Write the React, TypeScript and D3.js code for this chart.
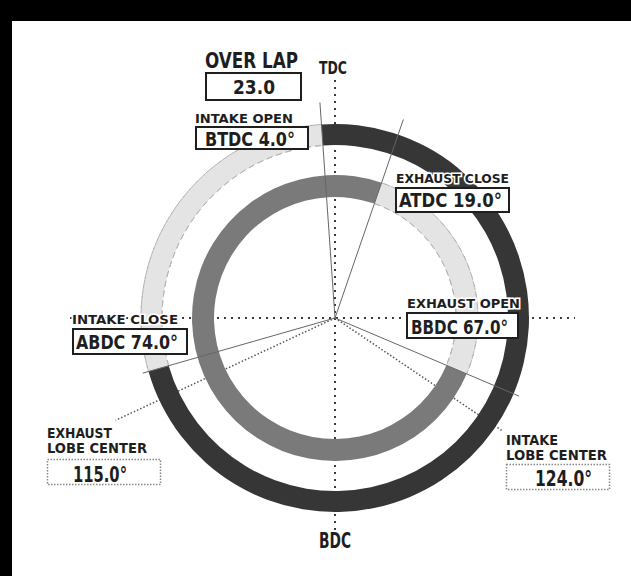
import React from "react";
import * as d3 from "d3";

// ---- data ----
const eventNames = ["INTAKE OPEN", "EXHAUST CLOSE", "EXHAUST OPEN", "INTAKE CLOSE"];
const eventRefs = ["BTDC", "ATDC", "BBDC", "ABDC"];
const eventValues = [4.0, 19.0, 67.0, 74.0];
const overlapValue = 23.0;
const lobeNames = ["EXHAUST", "INTAKE"];
const lobeValues = [115.0, 124.0]; // exhaust BTDC, intake ATDC
const deadCenters = ["TDC", "BDC"];

const W = 631, H = 576;
const cx = 335, cy = 318;

// crank-degree (clockwise from TDC) -> radians
const ang = d3.scaleLinear().domain([0, 360]).range([0, 2 * Math.PI]);

const intakeOpen = -eventValues[0];
const exhaustClose = eventValues[1];
const exhaustOpen = 180 - eventValues[2];
const intakeClose = 180 + eventValues[3];
const exhaustLobe = 360 - lobeValues[0];
const intakeLobe = lobeValues[1];

const FONT = "'DejaVu Sans Condensed', 'Liberation Sans Narrow', sans-serif";

function pt(deg: number, r: number): [number, number] {
  const a = ang(deg);
  return [cx + r * Math.sin(a), cy - r * Math.cos(a)];
}

function Txt(p: { x: number; y: number; w: number; fs: number; children: any; halo?: boolean; fill?: string }) {
  return (
    <text
      x={p.x}
      y={p.y}
      textLength={p.w}
      lengthAdjust="spacingAndGlyphs"
      fontFamily={FONT}
      fontWeight="bold"
      fontSize={p.fs}
      fill={p.fill || "#1e1e1e"}
      stroke={p.halo ? "#fff" : "none"}
      strokeWidth={p.halo ? 3 : 0}
      style={{ paintOrder: "stroke" } as any}
    >
      {p.children}
    </text>
  );
}

export default function App() {
  const outer = d3.arc<any>().innerRadius(173).outerRadius(194);
  const inner = d3.arc<any>().innerRadius(121).outerRadius(143);

  const intakeDark = outer({ startAngle: ang(intakeOpen), endAngle: ang(intakeClose) }) as string;
  const intakeLight = outer({ startAngle: ang(intakeClose), endAngle: ang(intakeOpen + 360) }) as string;
  const exhaustDark = inner({ startAngle: ang(exhaustOpen), endAngle: ang(exhaustClose + 360) }) as string;
  const exhaustLight = inner({ startAngle: ang(exhaustClose), endAngle: ang(exhaustOpen) }) as string;

  const edgeArc = (r: number, a0: number, a1: number) =>
    d3.arc<any>().innerRadius(r).outerRadius(r)({ startAngle: ang(a0), endAngle: ang(a1) }) as string;

  const solidLines: [number, number][] = [
    [intakeOpen, 216],
    [exhaustClose, 210],
    [exhaustOpen, 200],
    [intakeClose, 200],
  ];
  const lobeLines: [number, number][] = [
    [exhaustLobe, 242],
    [intakeLobe, 203],
  ];

  const fmt = d3.format(".1f");

  return (
    <svg width={W} height={H} style={{ position: "absolute", left: 0, top: 0, background: "#fff" }}>
      <rect x={0} y={0} width={W} height={H} fill="#fff" />
      {/* header and frame */}
      <rect x={0} y={0} width={W} height={21} fill="#000" />
      <rect x={0} y={0} width={12} height={H} fill="#000" />

      {/* axis dotted lines */}
      <line x1={70} y1={cy} x2={575} y2={cy} stroke="#3a3a3a" strokeWidth={2} strokeDasharray="2,5" />
      <line x1={cx} y1={80} x2={cx} y2={530} stroke="#3a3a3a" strokeWidth={2} strokeDasharray="2,5" />

      {/* lobe center dotted lines */}
      {lobeLines.map(([d, r], i) => {
        const [x, y] = pt(d, r);
        return <line key={"l" + i} x1={cx} y1={cy} x2={x} y2={y} stroke="#555" strokeWidth={1.5} strokeDasharray="1.5,2" />;
      })}

      {/* rings */}
      <g transform={`translate(${cx},${cy})`}>
        <path d={intakeLight} fill="#e4e4e4" />
        <path d={edgeArc(173, intakeClose, intakeOpen + 360)} fill="none" stroke="#b5b5b5" strokeWidth={1} strokeDasharray="6,4" />
        <path d={edgeArc(194, intakeClose, intakeOpen + 360)} fill="none" stroke="#b5b5b5" strokeWidth={1} strokeDasharray="6,4" />
        <path d={intakeDark} fill="#363636" />
        <path d={exhaustLight} fill="#e4e4e4" />
        <path d={edgeArc(121, exhaustClose, exhaustOpen)} fill="none" stroke="#b5b5b5" strokeWidth={1} strokeDasharray="6,4" />
        <path d={edgeArc(143, exhaustClose, exhaustOpen)} fill="none" stroke="#b5b5b5" strokeWidth={1} strokeDasharray="6,4" />
        <path d={exhaustDark} fill="#7a7a7a" />
      </g>

      {/* event solid lines */}
      {solidLines.map(([d, r], i) => {
        const [x, y] = pt(d, r);
        return <line key={"s" + i} x1={cx} y1={cy} x2={x} y2={y} stroke="#666" strokeWidth={1} />;
      })}

      {/* TDC / BDC */}
      <Txt x={319} y={74} w={28} fs={18}>{deadCenters[0]}</Txt>
      <Txt x={319} y={548} w={32} fs={21}>{deadCenters[1]}</Txt>

      {/* overlap */}
      <Txt x={205} y={68} w={93} fs={22}>OVER LAP</Txt>
      <rect x={206} y={73} width={95} height={27} fill="#fff" stroke="#1e1e1e" strokeWidth={2} />
      <Txt x={233} y={94} w={42} fs={20}>{fmt(overlapValue)}</Txt>

      {/* intake open */}
      <Txt x={195} y={123} w={98} fs={13} halo>{eventNames[0]}</Txt>
      <rect x={196} y={127} width={112} height={22} fill="#fff" stroke="#1e1e1e" strokeWidth={2} />
      <Txt x={205} y={146} w={90} fs={19}>{`${eventRefs[0]} ${fmt(eventValues[0])}°`}</Txt>

      {/* exhaust close */}
      <Txt x={396} y={183} w={113} fs={13} halo>{eventNames[1]}</Txt>
      <rect x={396} y={188} width={113} height={24} fill="#fff" stroke="#1e1e1e" strokeWidth={2} />
      <Txt x={399} y={207} w={103} fs={19}>{`${eventRefs[1]} ${fmt(eventValues[1])}°`}</Txt>

      {/* exhaust open */}
      <Txt x={407} y={308} w={113} fs={13} halo>{eventNames[2]}</Txt>
      <rect x={407} y={313} width={111} height={25} fill="#fff" stroke="#1e1e1e" strokeWidth={2} />
      <Txt x={411} y={334} w={97} fs={19}>{`${eventRefs[2]} ${fmt(eventValues[2])}°`}</Txt>

      {/* intake close */}
      <Txt x={72} y={324} w={106} fs={13} halo>{eventNames[3]}</Txt>
      <rect x={73} y={329} width={114} height={25} fill="#fff" stroke="#1e1e1e" strokeWidth={2} />
      <Txt x={76} y={349} w={102} fs={19}>{`${eventRefs[3]} ${fmt(eventValues[3])}°`}</Txt>

      {/* exhaust lobe center */}
      <Txt x={47} y={438} w={65} fs={14} halo>{lobeNames[0]}</Txt>
      <Txt x={47} y={453} w={100} fs={14} halo>LOBE CENTER</Txt>
      <rect x={47.5} y={459.5} width={113} height={25} fill="#fff" stroke="#888" strokeWidth={1.5} strokeDasharray="1.5,1.5" />
      <Txt x={73} y={482} w={54} fs={22}>{`${fmt(lobeValues[0])}°`}</Txt>

      {/* intake lobe center */}
      <Txt x={506} y={445} w={52} fs={14} halo>{lobeNames[1]}</Txt>
      <Txt x={506} y={460} w={101} fs={14} halo>LOBE CENTER</Txt>
      <rect x={506.5} y={464.5} width={103} height={25} fill="#fff" stroke="#888" strokeWidth={1.5} strokeDasharray="1.5,1.5" />
      <Txt x={535} y={486} w={57} fs={22}>{`${fmt(lobeValues[1])}°`}</Txt>
    </svg>
  );
}
